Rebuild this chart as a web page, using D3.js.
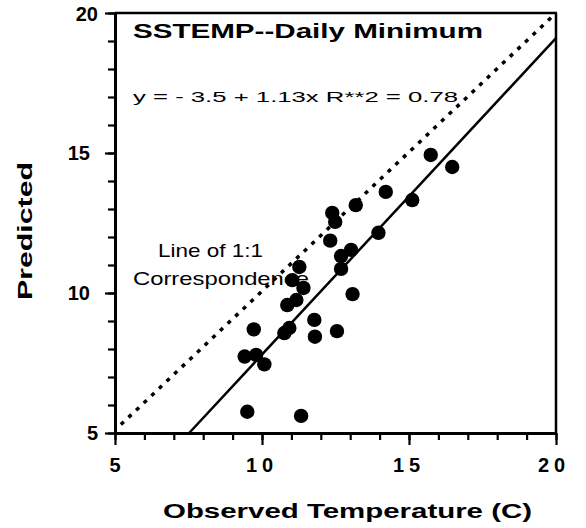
<!DOCTYPE html>
<html><head><meta charset="utf-8">
<script src="https://cdn.jsdelivr.net/npm/d3@7"></script>
<style>
html,body{margin:0;padding:0;background:#fff;}
svg{display:block;}
text{font-family:"Liberation Sans",Arial,Helvetica,sans-serif;fill:#000;}
</style></head>
<body><svg id="c" width="586" height="528"></svg>
<script>
const observed  = [15.74,16.47,14.21,15.11,13.19,12.39,12.49,12.32,13.96,12.69,13.03,12.69,13.08,11.27,11.03,11.41,11.17,10.86,10.76,10.93,11.78,11.80,12.55,9.72,9.41,9.80,10.08,9.50,11.33];
const predicted = [14.93,14.50,13.61,13.32,13.14,12.86,12.54,11.87,12.15,11.32,11.54,10.86,9.96,10.93,10.46,10.18,9.75,9.57,8.57,8.75,9.04,8.44,8.64,8.70,7.73,7.79,7.45,5.76,5.61];
const xTicks = [5,10,15,20];
const yTicks = [5,10,15,20];
const fitIntercept = -3.5, fitSlope = 1.13;
const titleText = "SSTEMP--Daily  Minimum";
const eqText = "y =  - 3.5 + 1.13x   R**2 = 0.78";
const noteLines = ["Line of 1:1","Correspondence"];
const xLabel = "Observed  Temperature  (C)";
const yLabel = "Predicted";

const svg = d3.select("#c");
const x = d3.scaleLinear().domain([5,20]).range([115,556]);
const y = d3.scaleLinear().domain([5,20]).range([433,13]);

// frame top & right
svg.append("line").attr("x1",x(5)).attr("x2",x(20)+1).attr("y1",y(20)).attr("y2",y(20)).attr("stroke","#000").attr("stroke-width",2.5);
svg.append("line").attr("x1",x(20)).attr("x2",x(20)).attr("y1",y(20)).attr("y2",y(5)).attr("stroke","#000").attr("stroke-width",2.5);

// minor ticks
const minorX = d3.axisBottom(x).tickValues(d3.range(5,21)).tickSize(7).tickFormat("").tickSizeOuter(0);
const minorY = d3.axisLeft(y).tickValues(d3.range(5,21)).tickSize(7).tickFormat("").tickSizeOuter(0);
const gx = svg.append("g").attr("transform",`translate(0,${y(5)})`).call(minorX);
const gy = svg.append("g").attr("transform",`translate(${x(5)},0)`).call(minorY);
[gx,gy].forEach(g=>{g.select(".domain").attr("stroke","#000").attr("stroke-width",3);g.selectAll(".tick line").attr("stroke","#000").attr("stroke-width",2.2);});
// major ticks
const majX = svg.append("g").attr("transform",`translate(0,${y(5)})`).call(d3.axisBottom(x).tickValues(xTicks).tickSize(12).tickFormat(""));
const majY = svg.append("g").attr("transform",`translate(${x(5)},0)`).call(d3.axisLeft(y).tickValues(yTicks).tickSize(10).tickFormat(""));
[majX,majY].forEach(g=>{g.select(".domain").remove();g.selectAll(".tick line").attr("stroke","#000").attr("stroke-width",2.2);});

// tick labels
svg.append("g").selectAll("text").data(xTicks).join("text")
  .attr("x",d=>x(d) + (d===20?-2:0)).attr("y",472)
  .attr("text-anchor","middle").attr("font-size",20).attr("font-weight","bold")
  .attr("letter-spacing",d=>d>=10?5:0)
  .text(d=>d);
svg.append("g").selectAll("text").data(yTicks).join("text")
  .attr("x",d=>(d===5||d===20)?98:90).attr("y",d=>y(d)+(d===20?8:7))
  .attr("text-anchor","end").attr("font-size",20).attr("font-weight","bold")
  .text(d=>d);

// 1:1 line (dotted)
svg.append("line").attr("x1",x(5.2)).attr("y1",y(5.3)).attr("x2",x(20)).attr("y2",y(20))
  .attr("stroke","#000").attr("stroke-width",3.5).attr("stroke-dasharray","4,6.5").attr("stroke-linecap","butt");

// regression line
const x0 = (5 - fitIntercept)/fitSlope;
svg.append("line").attr("x1",x(x0)).attr("y1",y(5)).attr("x2",x(20)).attr("y2",y(fitIntercept+fitSlope*20))
  .attr("stroke","#000").attr("stroke-width",2.5);

// points
svg.append("g").selectAll("circle").data(observed.map((o,i)=>[o,predicted[i]])).join("circle")
  .attr("cx",d=>x(d[0])).attr("cy",d=>y(d[1])).attr("r",7.2).attr("fill","#000");

// texts
svg.append("text").attr("x",133).attr("y",38).attr("font-size",20).attr("font-weight","bold")
  .attr("textLength",350).attr("lengthAdjust","spacingAndGlyphs").text(titleText);
svg.append("text").attr("x",133).attr("y",102).attr("font-size",15.5)
  .attr("textLength",325).attr("lengthAdjust","spacingAndGlyphs").text(eqText);
svg.append("text").attr("x",158).attr("y",257).attr("font-size",19)
  .attr("textLength",105).attr("lengthAdjust","spacingAndGlyphs").text(noteLines[0]);
svg.append("text").attr("x",133).attr("y",285).attr("font-size",19)
  .attr("textLength",176).attr("lengthAdjust","spacingAndGlyphs").text(noteLines[1]);
svg.append("text").attr("x",163).attr("y",518).attr("font-size",20).attr("font-weight","bold")
  .attr("textLength",369).attr("lengthAdjust","spacingAndGlyphs").text(xLabel);
svg.append("text").attr("transform","translate(32,231) rotate(-90)").attr("text-anchor","middle").attr("font-size",21).attr("font-weight","bold")
  .attr("textLength",138).attr("lengthAdjust","spacingAndGlyphs").text(yLabel);
</script></body></html>
